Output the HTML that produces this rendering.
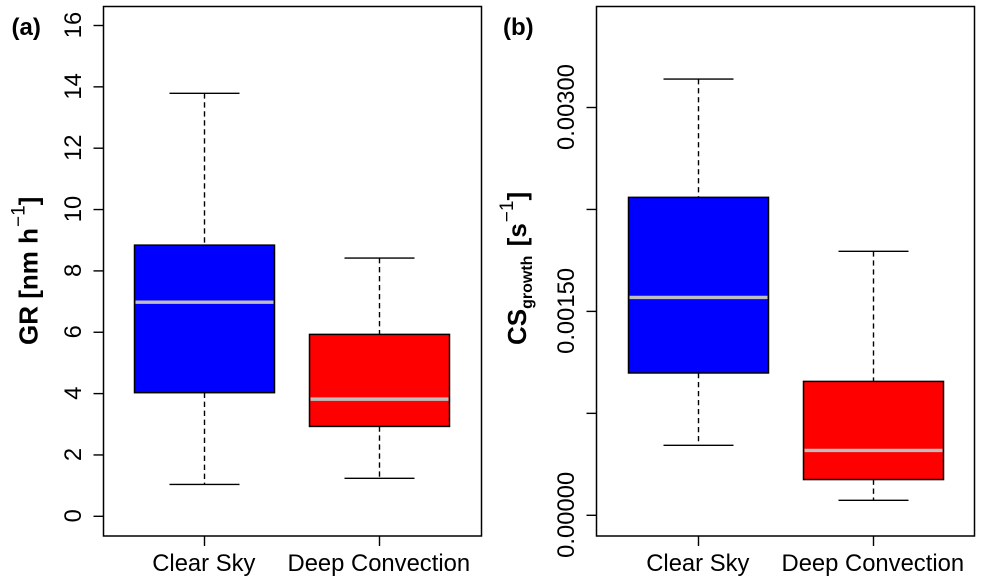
<!DOCTYPE html>
<html lang="en">
<head>
<meta charset="utf-8">
<title>GR and CS growth boxplots</title>
<style>
  html, body { margin: 0; padding: 0; background: #fff; }
  svg { display: block; font-family: "Liberation Sans", Arial, sans-serif; }
</style>
</head>
<body>
<svg id="chart" xmlns="http://www.w3.org/2000/svg" width="984" height="582" viewBox="0 0 984 582">
  <rect x="0" y="0" width="984" height="582" fill="#fff"/>
  <text x="11.5" y="35" font-size="24" font-weight="bold">(a)</text>
  <text x="503" y="35" font-size="24" font-weight="bold">(b)</text>
  <text transform="translate(37.5 345) rotate(-90)" font-size="26" font-weight="bold">GR [nm h<tspan font-size="19" font-weight="normal" dy="-13" dx="1">−1</tspan><tspan dy="13">]</tspan></text>
  <text transform="translate(526 345) rotate(-90)" font-size="26" font-weight="bold">CS<tspan font-size="16" dy="6">growth</tspan><tspan dy="-6" dx="2"> [s</tspan><tspan font-size="19" font-weight="normal" dy="-13" dx="1">−1</tspan><tspan dy="13">]</tspan></text>
  <g id="panel-a"></g>
  <g id="panel-b"></g>
</svg>
<script>
const categories = ["Clear Sky", "Deep Convection"];
const boxColors = ["#0000ff", "#ff0000"];

const grLow = [1.04, 1.24];
const grQ1 = [4.03, 2.93];
const grMedian = [6.98, 3.82];
const grQ3 = [8.84, 5.93];
const grHigh = [13.79, 8.42];
const grTicks = [0, 2, 4, 6, 8, 10, 12, 14, 16];
const grTickLabels = ["0", "2", "4", "6", "8", "10", "12", "14", "16"];

const csLow = [0.000515, 0.00011];
const csQ1 = [0.001047, 0.000263];
const csMedian = [0.001603, 0.000477];
const csQ3 = [0.002339, 0.000985];
const csHigh = [0.003209, 0.001942];
const csTicks = [0, 0.00075, 0.0015, 0.00225, 0.003];
const csTickLabels = ["0.00000", "", "0.00150", "", "0.00300"];

const NS = "http://www.w3.org/2000/svg";

function make(tag, parent, attrs) {
  const el = document.createElementNS(NS, tag);
  for (const k in attrs) el.setAttribute(k, attrs[k]);
  parent.appendChild(el);
  return el;
}

function linear(d0, d1, r0, r1) {
  return function (v) { return r0 + (v - d0) * (r1 - r0) / (d1 - d0); };
}

function drawPanel(g, left, right, top, bottom, yScale, xScale, labelX, low, q1, med, q3, high, ticks, tickLabels) {
  const black = "#000";

  categories.forEach(function (cat, i) {
    const cx = xScale(i);
    const box = make("g", g, {});
    
    

    const whiskerUp = make("line", box, { x1: cx, x2: cx, y1: yScale(high[i]), y2: yScale(q3[i]), stroke: black, "stroke-width": 1.4, "stroke-dasharray": "5.3 3.7" });
    
    

    const whiskerDown = make("line", box, { x1: cx, x2: cx, y1: yScale(q1[i]), y2: yScale(low[i]), stroke: black, "stroke-width": 1.4, "stroke-dasharray": "5.3 3.7" });
    
    

    const capUp = make("line", box, { x1: cx - 35, x2: cx + 35, y1: yScale(high[i]), y2: yScale(high[i]), stroke: black, "stroke-width": 1.4 });
    
    

    const capDown = make("line", box, { x1: cx - 35, x2: cx + 35, y1: yScale(low[i]), y2: yScale(low[i]), stroke: black, "stroke-width": 1.4 });
    
    

    const rect = make("rect", box, { x: cx - 70, width: 140, y: yScale(q3[i]), height: yScale(q1[i]) - yScale(q3[i]), fill: boxColors[i], stroke: black, "stroke-width": 1.5 });
    
    

    const median = make("line", box, { x1: cx - 69, x2: cx + 69, y1: yScale(med[i]), y2: yScale(med[i]), stroke: "#bebebe", "stroke-width": 3.4 });
    
    

    const tick = make("line", g, { x1: cx, x2: cx, y1: bottom, y2: bottom + 10, stroke: black, "stroke-width": 1.4 });
    
    

    const label = make("text", g, { x: cx - 0.7, y: 571, "text-anchor": "middle", "font-size": 23.8 });
    
    
    label.textContent = cat;
  });

  ticks.forEach(function (t, i) {
    const y = yScale(t);
    const tick = make("line", g, { x1: left - 10, x2: left, y1: y, y2: y, stroke: black, "stroke-width": 1.4 });
    
    
    if (tickLabels[i]) {
      const label = make("text", g, { transform: "translate(" + labelX + " " + (y - 0.5) + ") rotate(-90)", "text-anchor": "middle", "font-size": 23.8 });
      
      
      label.textContent = tickLabels[i];
    }
  });

  const frame = make("rect", g, { x: left, y: top, width: right - left, height: bottom - top, fill: "none", stroke: black, "stroke-width": 1.5 });
  
  
}

const yA = linear(0, 16, 516.3, 25.5);
const xA = linear(0, 1, 204.5, 379.5);
drawPanel(document.getElementById("panel-a"), 103.5, 481.5, 6.5, 536, yA, xA, 81, grLow, grQ1, grMedian, grQ3, grHigh, grTicks, grTickLabels);

const yB = linear(0, 0.003, 515.3, 107.5);
const xB = linear(0, 1, 698.5, 873.5);
drawPanel(document.getElementById("panel-b"), 596.5, 974.5, 6.5, 536, yB, xB, 574, csLow, csQ1, csMedian, csQ3, csHigh, csTicks, csTickLabels);
</script>
</body>
</html>
